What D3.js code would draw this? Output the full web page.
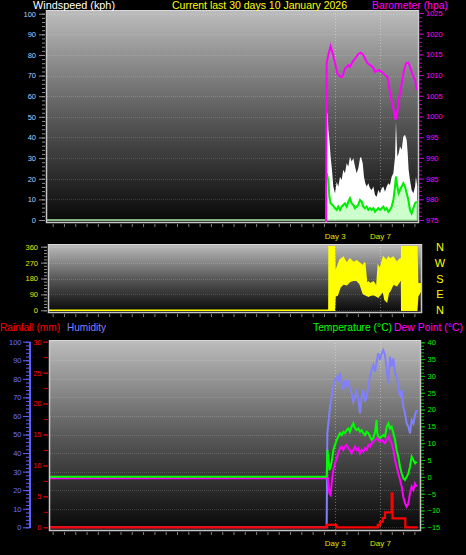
<!DOCTYPE html>
<html><head><meta charset="utf-8">
<script src="https://cdn.jsdelivr.net/npm/d3@7"></script>
<style>html,body{margin:0;padding:0;background:#000;overflow:hidden}svg{display:block}</style>
</head><body><svg id="c" width="466" height="555"></svg>
<script>
// ---------- DATA (time axis in days, Day 3 / Day 7 labelled) ----------
const xDomain = [-22.5, 10.32];
const dayTickValues = [3, 7];
const dayTickLabels = ["Day 3", "Day 7"];
const titleText = "Current last 30 days 10 January 2026";

const windTicks = [0,10,20,30,40,50,60,70,80,90,100];
const baroTicks = [975,980,985,990,995,1000,1005,1010,1015,1020,1025];
const dirTicks = [0,90,180,270,360];
const compassLabels = ["N","W","S","E","N"];
const compassDirs = [360,270,180,90,0];
const humTicks = [0,10,20,30,40,50,60,70,80,90,100];
const rainTicks = [0,5,10,15,20,25,30];
const tempTicks = [-15,-10,-5,0,5,10,15,20,25,30,35,40];

const baroDays = [-22.5,2.18,2.24,2.39,2.59,2.77,2.98,3.18,3.42,3.63,3.86,4.16,4.30,4.54,4.75,5.04,5.25,5.48,5.63,5.84,6.07,6.31,6.52,6.81,7.11,7.40,7.61,7.78,7.99,8.20,8.34,8.49,8.67,8.88,9.08,9.26,9.47,9.61,9.85,10.06,10.20];
const baroValues = [0,0,1012.9,1014.9,1017.0,1015.3,1012.9,1010.4,1009.6,1009.6,1011.6,1012.4,1012.0,1013.2,1014.0,1015.1,1015.4,1014.9,1014.0,1012.9,1012.4,1012.0,1010.8,1011.2,1010.8,1010.0,1009.6,1006.8,1003.6,1001.2,999.2,1001.2,1004.8,1008.0,1011.2,1012.9,1013.0,1012.0,1010.0,1008.8,1006.4];

const gustDays = [-22.5,2.18,2.21,2.33,2.39,2.48,2.59,2.71,2.83,2.98,3.13,3.27,3.42,3.57,3.71,3.86,4.01,4.16,4.30,4.45,4.60,4.75,4.89,5.04,5.19,5.28,5.43,5.54,5.66,5.78,5.93,6.07,6.22,6.37,6.52,6.66,6.81,6.96,7.11,7.25,7.40,7.55,7.70,7.84,7.99,8.14,8.29,8.37,8.49,8.61,8.73,8.88,9.02,9.17,9.32,9.41,9.49,9.61,9.76,9.91,10.06,10.14,10.26];
const gustValues = [0,0,51.8,51.8,43.7,38.8,30.7,24.3,16.2,13.0,18.6,16.2,21.0,19.4,24.3,22.7,27.5,25.9,30.7,28.3,29.9,25.9,22.7,25.1,29.9,30.7,27.5,21.0,17.8,16.2,17.8,15.4,14.6,16.2,12.1,11.3,14.6,13.0,15.4,16.2,13.7,16.2,17.8,17.0,21.0,22.7,30.7,47.7,30.7,32.4,35.6,34.0,40.4,41.3,38.8,32.4,24.3,19.4,14.6,13.0,16.2,21.0,16.2];

const windDays = [-22.5,2.18,2.24,2.39,2.48,2.59,2.77,2.98,3.13,3.27,3.42,3.57,3.71,3.86,4.01,4.16,4.30,4.45,4.60,4.75,4.89,5.04,5.19,5.34,5.48,5.63,5.78,5.93,6.07,6.22,6.37,6.52,6.66,6.81,6.96,7.11,7.25,7.40,7.55,7.70,7.84,7.99,8.14,8.29,8.37,8.49,8.61,8.73,8.88,9.02,9.17,9.32,9.47,9.61,9.76,9.91,10.06,10.20];
const windValues = [0,0,22.7,19.4,11.3,8.1,7.3,5.7,4.9,6.5,4.9,6.5,7.3,8.1,6.5,8.9,10.5,8.1,7.3,5.7,6.5,7.3,9.7,8.9,6.5,5.7,6.5,4.9,5.7,4.9,5.7,4.0,4.9,5.7,4.9,5.7,6.5,4.9,5.7,4.0,4.9,6.5,9.7,16.2,21.0,16.2,13.0,14.6,16.2,17.8,16.2,13.0,9.7,4.9,3.2,5.7,8.1,8.9];

const dirDays = [-22.5,2.44,2.45,2.92,2.98,3.18,3.42,3.71,4.01,4.30,4.60,4.90,5.19,5.48,5.60,5.78,5.95,6.07,6.37,6.67,6.80,6.96,7.25,7.40,7.55,7.70,7.84,8.13,8.44,8.73,8.87,8.88,10.21,10.29,10.65];
const dirLow = [0,0,0,0,80,85,130,150,145,165,170,170,150,95,90,85,80,85,90,80,75,90,110,60,50,100,110,150,140,170,170,0,0,80,120];
const dirHigh = [0,0,360,360,200,245,285,300,265,290,270,280,265,250,270,150,160,150,160,130,250,230,300,290,280,300,290,300,270,290,290,360,360,150,150];

const humDays = [-22.5,2.24,2.30,2.39,2.54,2.68,2.83,2.98,3.13,3.27,3.42,3.57,3.71,3.86,4.01,4.16,4.30,4.45,4.60,4.75,4.89,5.04,5.19,5.34,5.48,5.63,5.78,5.93,6.07,6.22,6.37,6.52,6.66,6.81,6.96,7.11,7.25,7.40,7.55,7.70,7.84,7.99,8.14,8.29,8.43,8.58,8.73,8.88,9.02,9.17,9.32,9.47,9.61,9.76,9.91,10.06,10.20];
const humValues = [0,0,50.6,56.0,65.0,70.4,75.8,79.4,81.1,78.4,83.0,77.6,74.0,79.4,76.7,78.4,74.9,72.2,67.7,70.4,73.1,69.5,61.4,70.4,74.0,67.7,70.4,75.8,81.1,84.8,87.4,83.8,89.2,93.8,90.1,93.8,95.5,92.8,84.8,77.6,91.9,86.5,91.0,83.0,81.1,75.8,70.4,74.0,65.0,61.4,56.0,54.2,50.6,57.8,56.0,60.5,63.2];

const tempDays = [-22.5,2.24,2.30,2.39,2.48,2.59,2.71,2.83,2.98,3.13,3.27,3.42,3.57,3.71,3.86,4.01,4.16,4.30,4.45,4.60,4.75,4.89,5.04,5.19,5.34,5.48,5.63,5.78,5.93,6.07,6.22,6.37,6.52,6.66,6.72,6.81,6.96,7.11,7.25,7.40,7.55,7.70,7.84,7.99,8.14,8.29,8.43,8.58,8.73,8.88,9.02,9.17,9.32,9.47,9.61,9.76,9.91,10.06,10.20];
const tempValues = [0,0.0,8.0,6.0,2.0,3.0,5.0,8.0,9.5,11.0,12.0,13.0,12.4,13.4,13.0,13.9,14.4,13.4,14.9,15.9,14.4,13.9,14.4,13.4,13.9,13.0,12.4,13.4,13.0,12.0,11.0,11.5,13.4,16.9,13.0,12.0,11.5,12.0,12.4,12.0,14.9,15.9,14.4,14.9,13.0,11.0,8.0,6.0,3.0,1.0,-0.4,-0.9,0.0,1.0,3.0,6.0,5.0,4.0,4.5];

const dewDays = [-22.5,2.24,2.30,2.39,2.48,2.59,2.71,2.83,2.98,3.13,3.27,3.42,3.57,3.71,3.86,4.01,4.16,4.30,4.45,4.60,4.75,4.89,5.04,5.19,5.34,5.48,5.63,5.78,5.93,6.07,6.22,6.37,6.52,6.66,6.81,6.96,7.11,7.25,7.40,7.55,7.70,7.84,7.99,8.14,8.29,8.43,8.58,8.73,8.88,9.02,9.17,9.32,9.47,9.61,9.76,9.91,10.06,10.20];
const dewValues = [-0.4,-0.4,1.0,-2.0,-4.9,-5.4,-0.9,2.0,4.0,5.5,7.0,8.5,9.0,8.0,9.0,9.5,8.5,8.0,7.0,8.0,9.0,8.0,8.5,7.0,8.0,7.5,8.5,8.0,9.5,9.0,10.0,10.5,11.0,11.5,11.0,10.5,11.0,10.5,10.0,11.0,12.0,11.0,10.0,8.0,5.0,3.0,1.0,-0.9,-2.9,-5.9,-7.9,-8.9,-7.9,-4.9,-2.9,-3.9,-2.0,-2.9];

const rainDays = [-22.5,2.24,3.1,6.76,6.96,7.2,7.4,7.99,8.07,9.2,10.3];
const rainValues = [0,0.4,0,0.4,0.9,1.5,2.4,5.5,1.45,0,0];

// ---------- DRAWING ----------
const FONT = "'Liberation Sans', Arial, sans-serif";
const svg = d3.select("#c");
svg.append("rect").attr("width",466).attr("height",555).attr("fill","#000");
const defs = svg.append("defs");

const x = d3.scaleLinear().domain(xDomain).range([47,418]);
const yWind = d3.scaleLinear().domain([0,100]).range([220,13.7]);
const yBaro = d3.scaleLinear().domain([975,1025]).range([220,13]);
const yDir = d3.scaleLinear().domain([0,360]).range([310.3,246.7]);
const yHum = d3.scaleLinear().domain([0,100]).range([527.3,341.7]);
const yRain = d3.scaleLinear().domain([0,30]).range([527.3,341.7]);
const yTemp = d3.scaleLinear().domain([-15,40]).range([527.3,342.3]);

const panels = [
  {id:"top", x0:47, x1:418, y0:10, y1:222, grid: windTicks.map(yWind)},
  {id:"mid", x0:49, x1:421, y0:244, y1:312, grid: dirTicks.map(yDir)},
  {id:"bot", x0:50, x1:420, y0:340, y1:530, grid: humTicks.map(yHum)}
];

panels.forEach(p => {
  const g = defs.append("linearGradient").attr("id","g_"+p.id).attr("x1",0).attr("x2",0).attr("y1",0).attr("y2",1);
  g.append("stop").attr("offset","0%").attr("stop-color","#bdbdbd");
  g.append("stop").attr("offset","50%").attr("stop-color","#5a5a5a");
  g.append("stop").attr("offset","100%").attr("stop-color","#080808");
  defs.append("clipPath").attr("id","c_"+p.id).append("rect")
    .attr("x",p.x0).attr("y",p.y0).attr("width",p.x1-p.x0).attr("height",p.y1-p.y0);
  svg.append("rect").attr("x",p.x0).attr("y",p.y0).attr("width",p.x1-p.x0).attr("height",p.y1-p.y0)
    .attr("fill","url(#g_"+p.id+")");
  svg.append("g").selectAll("line").data(p.grid).join("line")
    .attr("x1",p.x0).attr("x2",p.x1).attr("y1",d=>Math.round(d)+0.5).attr("y2",d=>Math.round(d)+0.5)
    .attr("stroke","rgba(255,255,255,0.16)").attr("stroke-dasharray","1,1");
  svg.append("g").selectAll("line").data(dayTickValues).join("line")
    .attr("x1",d=>Math.round(x(d))+0.5).attr("x2",d=>Math.round(x(d))+0.5).attr("y1",p.y0).attr("y2",p.y1)
    .attr("stroke","rgba(255,255,255,0.35)").attr("stroke-dasharray","1,2");
});

const zip = (a,b) => a.map((d,i)=>[d,b[i]]);

// ---- top panel: wind + barometer
const gTop = svg.append("g").attr("clip-path","url(#c_top)");
gTop.append("path").datum(zip(gustDays,gustValues))
  .attr("d", d3.area().x(d=>x(d[0])).y0(yWind(0)).y1(d=>yWind(d[1])))
  .attr("fill","#ffffff");
gTop.append("path").datum(zip(windDays,windValues))
  .attr("d", d3.area().x(d=>x(d[0])).y0(yWind(0)).y1(d=>yWind(d[1])))
  .attr("fill","#ccffcc").attr("stroke","#a8eca8").attr("stroke-width",1.5);
gTop.append("path").datum(zip(windDays,windValues))
  .attr("d", d3.line().defined(d=>d[1]>0).x(d=>x(d[0])).y(d=>yWind(d[1])))
  .attr("fill","none").attr("stroke","#00ee00").attr("stroke-width",2);
gTop.append("path").datum(zip(baroDays,baroValues))
  .attr("d", d3.line().x(d=>x(d[0])).y(d=>yBaro(Math.max(d[1],970))))
  .attr("fill","none").attr("stroke","#ff00ff").attr("stroke-width",2);

// ---- middle panel: wind direction
const gMid = svg.append("g").attr("clip-path","url(#c_mid)");
gMid.append("path").datum(dirDays.map((d,i)=>[d,dirLow[i],dirHigh[i]]))
  .attr("d", d3.area().x(d=>x(d[0])).y0(d=>yDir(d[1])).y1(d=>yDir(d[2])))
  .attr("fill","#ffff00").attr("stroke","#ffff00").attr("stroke-width",1.5);

// ---- bottom panel
const gBot = svg.append("g").attr("clip-path","url(#c_bot)");
const lineOf = (ys) => d3.line().x(d=>x(d[0])).y(d=>ys(d[1]));
gBot.append("path").datum(zip(humDays,humValues)).attr("d", lineOf(yHum))
  .attr("fill","none").attr("stroke","#8080ff").attr("stroke-width",2);
gBot.append("path").datum(zip(dewDays,dewValues)).attr("d", lineOf(yTemp))
  .attr("fill","none").attr("stroke","#ff00ff").attr("stroke-width",2);
gBot.append("path").datum(zip(tempDays,tempValues)).attr("d", lineOf(yTemp))
  .attr("fill","none").attr("stroke","#00ff00").attr("stroke-width",2);
gBot.append("path").datum(zip(rainDays,rainValues))
  .attr("d", d3.line().curve(d3.curveStepAfter).x(d=>x(d[0])).y(d=>yRain(d[1])))
  .attr("fill","none").attr("stroke","#ff0000").attr("stroke-width",2.2);

// frame bevel + day ticks under panels
panels.forEach(p => {
  svg.append("path").attr("d",`M${p.x0-0.5},${p.y0} V${p.y1+0.5} H${p.x1+0.5} V${p.y0}`)
    .attr("fill","none").attr("stroke","#c8c8c8").attr("stroke-width",1.5);
  svg.append("path").attr("d",`M${p.x0-0.5},${p.y0+0.5} H${p.x1+0.5}`)
    .attr("fill","none").attr("stroke","#d8d8d8").attr("stroke-width",1);
  const axis = d3.axisBottom(x).tickValues(d3.range(-22,11,1)).tickSize(3).tickFormat("");
  const ga = svg.append("g").attr("transform",`translate(0,${p.y1+2})`).call(axis);
  ga.select(".domain").remove();
  ga.selectAll("line").attr("stroke","#808080");
});

// ---------- AXES ----------
const fmt = d3.format("d");
function styleAxis(g, color, tickColor){
  g.select(".domain").remove();
  g.attr("font-family",FONT).attr("font-size",7.5);
  g.selectAll("line").attr("stroke", tickColor||color);
  g.selectAll("text").attr("fill",color);
}
function minor(g, axisFn, scale, vals, size, color){
  const a = axisFn(scale).tickValues(vals).tickSize(size).tickFormat("");
  g.call(a); g.select(".domain").remove(); g.selectAll("line").attr("stroke",color);
}
minor(svg.append("g").attr("transform","translate(45,0)"), d3.axisLeft, yWind, d3.range(0,101,2), 3, "#909090");
styleAxis(svg.append("g").attr("transform","translate(45,0)")
  .call(d3.axisLeft(yWind).tickValues(windTicks).tickFormat(fmt).tickSize(6).tickPadding(3)), "#a8d0ff", "#909090");
minor(svg.append("g").attr("transform","translate(419,0)"), d3.axisRight, yBaro, d3.range(975,1026,1), 3, "#c000c0");
styleAxis(svg.append("g").attr("transform","translate(419,0)")
  .call(d3.axisRight(yBaro).tickValues(baroTicks).tickFormat(fmt).tickSize(5).tickPadding(2)), "#ff00ff", "#c000c0");
minor(svg.append("g").attr("transform","translate(47,0)"), d3.axisLeft, yDir, d3.range(0,361,18), 3, "#909090");
styleAxis(svg.append("g").attr("transform","translate(47,0)")
  .call(d3.axisLeft(yDir).tickValues(dirTicks).tickFormat(fmt).tickSize(6).tickPadding(3)), "#e8e800", "#909090");
minor(svg.append("g").attr("transform","translate(29,0)"), d3.axisLeft, yHum, d3.range(0,101,2), 3, "#6060ff");
styleAxis(svg.append("g").attr("transform","translate(29,0)")
  .call(d3.axisLeft(yHum).tickValues(humTicks).tickFormat(fmt).tickSize(6).tickPadding(1.5)), "#7070ff", "#6060ff");
svg.append("line").attr("x1",30).attr("x2",30).attr("y1",yHum(100)).attr("y2",yHum(0)+1)
  .attr("stroke","#6060ff").attr("stroke-width",2);
minor(svg.append("g").attr("transform","translate(48,0)"), d3.axisLeft, yRain, d3.range(0,30.1,2.5), 4, "#d00000");
styleAxis(svg.append("g").attr("transform","translate(48,0)")
  .call(d3.axisLeft(yRain).tickValues(rainTicks).tickFormat(fmt).tickSize(5).tickPadding(1.5)), "#ff0000", "#d00000");
minor(svg.append("g").attr("transform","translate(421,0)"), d3.axisRight, yTemp, d3.range(-15,41,1), 3, "#00c000");
styleAxis(svg.append("g").attr("transform","translate(421,0)")
  .call(d3.axisRight(yTemp).tickValues(tempTicks).tickFormat(d3.format("")).tickSize(4).tickPadding(2.5)), "#00ee00", "#00c000");

// ---------- TEXT ----------
function txt(t, xx, yy, color, size, len, anchor){
  const e = svg.append("text").attr("x",xx).attr("y",yy).attr("fill",color)
    .attr("font-family",FONT).attr("font-size",size).text(t);
  if (len) e.attr("textLength",len).attr("lengthAdjust","spacingAndGlyphs");
  if (anchor) e.attr("text-anchor",anchor);
  return e;
}
txt("Windspeed (kph)", 33, 9, "#ffffff", 11, 82);
txt(titleText, 172, 9, "#ffff00", 11, 175);
txt("Barometer (hpa)", 372, 9, "#ff00ff", 11, 76);
txt("Rainfall (mm)", 0, 331, "#ff0000", 11, 60);
txt("Humidity", 67, 331, "#8080ff", 11, 39);
txt("Temperature (°C)", 313, 331, "#00ff00", 11, 79);
txt("Dew Point (°C)", 394, 331, "#ff00ff", 11, 69);

compassLabels.forEach((c,i) => {
  txt(c, 440, yDir(compassDirs[i]) + 4, "#ffff00", 11, null, "middle");
});
dayTickValues.forEach((d,i) => {
  txt(dayTickLabels[i], x(d), 239, "#e0e000", 8, null, "middle");
  txt(dayTickLabels[i], x(d), 546, "#e0e000", 8, null, "middle");
});
</script></body></html>
